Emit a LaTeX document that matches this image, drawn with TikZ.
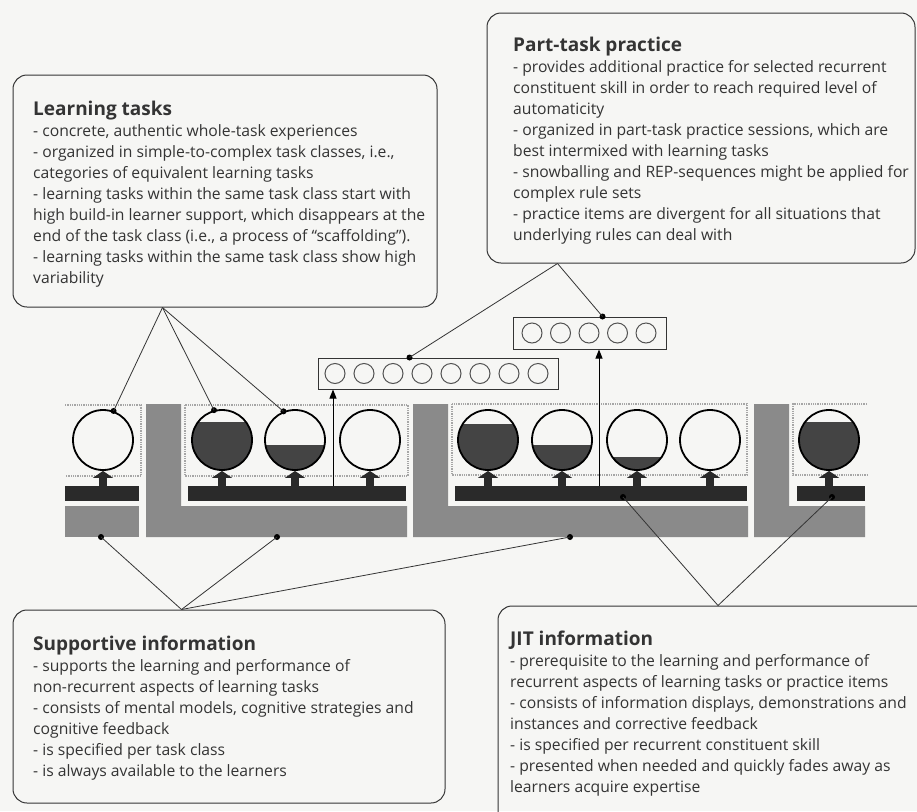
\documentclass[tikz,border=0pt]{standalone}
\usepackage{fontspec}
\setmainfont{Open Sans}
\usetikzlibrary{positioning,arrows.meta,calc}
\definecolor{paper}{RGB}{246,246,244}
\definecolor{ink}{RGB}{52,52,52}
\definecolor{slab}{RGB}{138,138,138}
\definecolor{pipe}{RGB}{42,42,42}
\definecolor{water}{RGB}{68,68,68}
\tikzset{
  info/.style={draw=ink, line width=1pt, rounded corners=14pt, inner sep=0pt},
  txt/.style={anchor=north west, inner sep=0pt, align=left, text=ink, font=\fontsize{15.7}{21}\selectfont},
  tank/.style={circle, draw=black, line width=1.8pt, minimum size=60pt, inner sep=0pt},
  item/.style={circle, draw=ink!85, line width=1pt, minimum size=20pt, inner sep=0pt},
  itembox/.style={draw=ink, line width=1pt, inner sep=0pt},
  bar/.style={fill=pipe, inner sep=0pt, outer sep=0pt, minimum height=15pt},
  cls/.style={draw=gray!70, densely dotted, line width=1.3pt},
  dot/.style={circle, fill=black, inner sep=0pt, minimum size=6pt},
  ln/.style={draw=ink, line width=0.8pt},
  up/.style={-{Triangle[length=9pt,width=7pt]}, draw=black, line width=1pt},
  stem/.style={-{Triangle[length=7pt,width=20pt]}, draw=pipe, line width=8pt},
}
\newcommand{\hd}[1]{{\fontsize{19}{21}\selectfont\bfseries #1}}

\begin{document}
\begin{tikzpicture}[x=1pt, y=-1pt]
\fill[paper] (0,0) rectangle (917,811);
\clip (0,0) rectangle (917,811);
\useasboundingbox (0,0) rectangle (917,811);

\node[info, minimum width=424, minimum height=232] (learn) at (225,191) {};
\node[txt] (learntxt) at (33,101) {\hd{Learning tasks}\\
- concrete, authentic whole-task experiences\\
- organized in simple-to-complex task classes, i.e.,\\
categories of equivalent learning tasks\\
- learning tasks within the same task class start with\\
high build-in learner support, which disappears at the\\
end of the task class (i.e., a process of “scaffolding”).\\
- learning tasks within the same task class show high\\
variability};
\node[info, minimum width=428, minimum height=250] (part) at (701,138) {};
\node[txt] (parttxt) at (513,37) {\hd{Part-task practice}\\
- provides additional practice for selected recurrent\\
constituent skill in order to reach required level of\\
automaticity\\
- organized in part-task practice sessions, which are\\
best intermixed with learning tasks\\
- snowballing and REP-sequences might be applied for\\
complex rule sets\\
- practice items are divergent for all situations that\\
underlying rules can deal with};
\node[info, minimum width=432, minimum height=193] (sup) at (229,706.5) {};
\node[txt] (suptxt) at (33,636) {\hd{Supportive information}\\
- supports the learning and performance of\\
non-recurrent aspects of learning tasks\\
- consists of mental models, cognitive strategies and\\
cognitive feedback\\
- is specified per task class\\
- is always available to the learners};
\node[info, minimum width=440, minimum height=230] (jit) at (718,721) {};
\node[txt] (jittxt) at (510,631) {\hd{JIT information}\\
- prerequisite to the learning and performance of\\
recurrent aspects of learning tasks or practice items\\
- consists of information displays, demonstrations and\\
instances and corrective feedback\\
- is specified per recurrent constituent skill\\
- presented when needed and quickly fades away as\\
learners acquire expertise};

\fill[slab] (65,506) rectangle (139,537);
\fill[slab] (146,404) -- (181,404) -- (181,506) -- (407,506) -- (407,537) -- (146,537) -- cycle;
\fill[slab] (413,404) -- (448,404) -- (448,506) -- (748,506) -- (748,537) -- (413,537) -- cycle;
\fill[slab] (754,404) -- (789,404) -- (789,506) -- (865,506) -- (865,537) -- (754,537) -- cycle;
\draw[cls] (65,405) -- (141,405) -- (141,476) -- (65,476);
\draw[cls] (185,405) rectangle (408,476);
\draw[cls] (452,404) rectangle (747,475);
\draw[cls] (867,404) -- (793,404) -- (793,475) -- (867,475);
\node[bar, minimum width=74] (bar1) at (102,493.5) {};
\node[bar, minimum width=218] (bar2) at (297,493.5) {};
\node[bar, minimum width=292] (bar3) at (601,493.5) {};
\node[bar, minimum width=68] (bar4) at (831,493.5) {};

\foreach \n/\x/\f in {1/103/0,2/222/0.8,3/295/0.42,4/370/0,5/488/0.77,6/562/0.42,7/637/0.22,8/710/0,9/829/0.8}{
  \begin{scope}
    \clip (\x,440) circle (30);
    \fill[water] (\x-30,471) rectangle (\x+30,{470-60*\f});
  \end{scope}
  \node[tank] (c\n) at (\x,440) {};
  \draw[stem] (c\n.south |- bar1.north) -- (c\n.south);
}

\node[itembox, minimum width=240, minimum height=31] (itemsA) at (438,373.5) {};
\foreach \i in {0,...,7} \node[item] (a\i) at (335+29*\i,373.5) {};
\node[itembox, minimum width=153, minimum height=32] (itemsB) at (589.5,333) {};
\foreach \i in {0,...,4} \node[item] (b\i) at (532+28.5*\i,333) {};
\coordinate (u1) at (333,486);
\coordinate (u2) at (599,486);
\draw[up] (u1) -- (u1 |- itemsA.south);
\draw[up] (u2) -- (u2 |- itemsB.south);

\coordinate (lt) at ($(learn.south west)+(150,0)$);
\coordinate (pt) at ($(part.south west)+(71,0)$);
\coordinate (st) at ($(sup.north west)+(169,0)$);
\node[dot] (t1) at (c1.70) {};
\node[dot] (t2) at (c2.105) {};
\node[dot] (t3) at (c3.112) {};
\node[dot] (pA) at ($(itemsA.north west)+(92,0)$) {};
\node[dot] (pB) at ($(itemsB.north west)+(90,0)$) {};
\node[dot] (g1) at (101,537) {};
\node[dot] (g2) at (277,537) {};
\node[dot] (g3) at (570,537) {};
\node[dot] (j1) at (623,497) {};
\node[dot] (j2) at (832,497) {};
\foreach \d in {t1,t2,t3} \draw[ln] (lt) -- (\d.center);
\foreach \d in {pA,pB} \draw[ln] (pt) -- (\d.center);
\foreach \d in {g1,g2,g3} \draw[ln] (st) -- (\d.center);
\foreach \d in {j1,j2} \draw[ln] (jit.north) -- (\d.center);
\end{tikzpicture}
\end{document}
